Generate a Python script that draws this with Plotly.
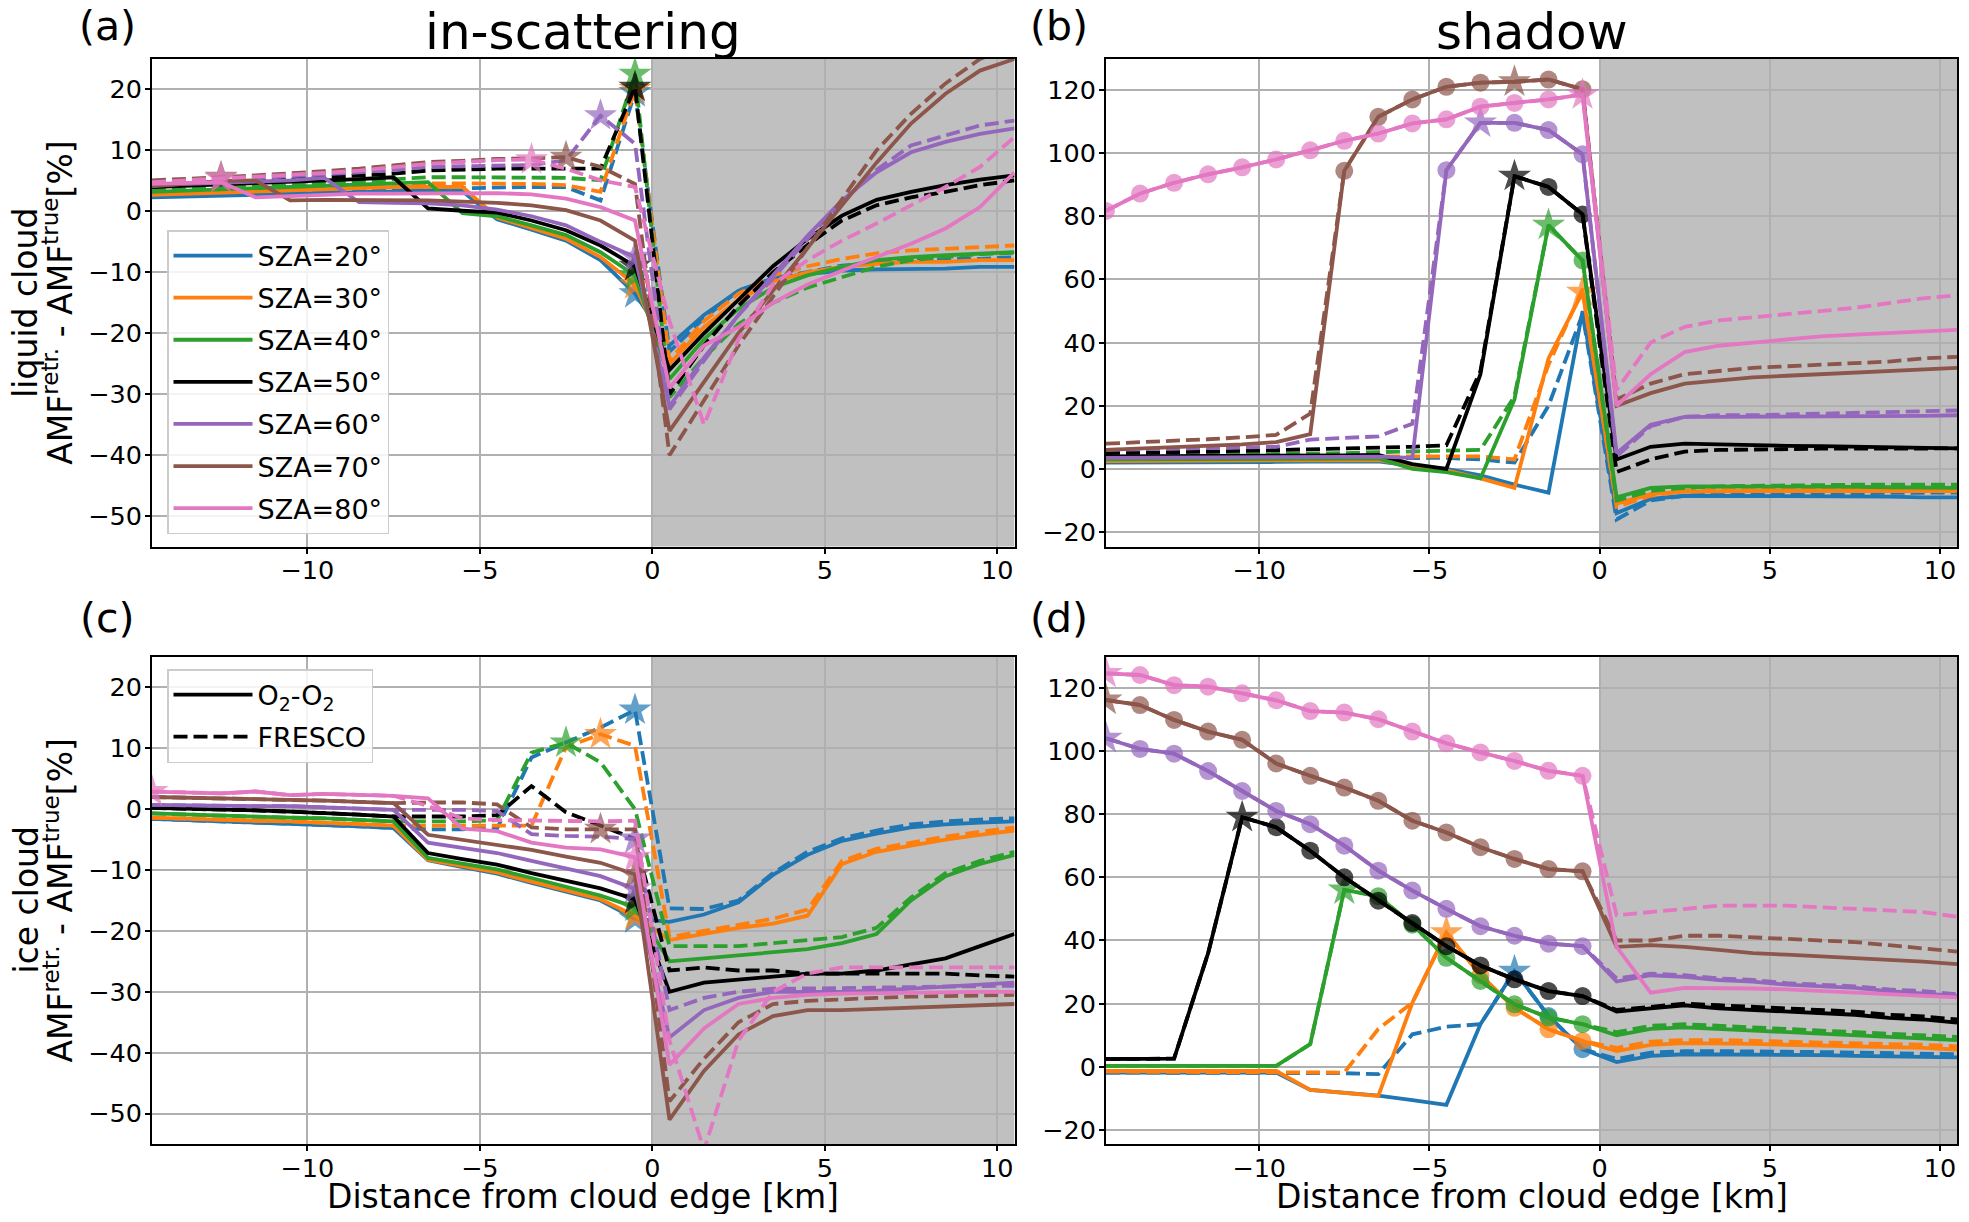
import plotly.graph_objects as go

# distance from cloud edge [km], pixel centres
x_km = [-14.5, -13.5, -12.5, -11.5, -10.5, -9.5, -8.5, -7.5, -6.5, -5.5, -4.5, -3.5, -2.5,
        -1.5, -0.5, 0.5, 1.5, 2.5, 3.5, 4.5, 5.5, 6.5, 7.5, 8.5, 9.5, 10.5]
sza_list = [20, 30, 40, 50, 60, 70, 80]

# (a) liquid cloud, in-scattering
a_o2_20 = [2.3, 2.4, 2.6, 2.7, 2.9, 3.0, 3.2, 3.3, 3.4, 3.3, -1.3, -3.0, -4.8, -8.0, -13.5, -22.0, -17.0, -13.0, -11.0, -10.3, -9.7, -9.5, -9.4, -9.4, -9.1, -9.1]
a_o2_30 = [2.7, 2.9, 3.1, 3.3, 3.5, 3.7, 3.9, 4.0, 4.0, 4.0, -1.0, -2.7, -4.5, -7.5, -12.0, -25.0, -19.0, -14.5, -11.5, -10.0, -9.1, -8.6, -8.3, -8.3, -8.0, -8.0]
a_o2_40 = [3.2, 3.4, 3.6, 3.8, 4.0, 4.2, 4.4, 4.7, 4.8, -0.3, -0.8, -2.3, -3.9, -6.7, -10.5, -27.5, -21.0, -16.0, -12.5, -10.5, -9.1, -8.0, -7.5, -7.2, -6.9, -6.7]
a_o2_50 = [4.0, 4.2, 4.4, 4.6, 4.8, 5.0, 5.3, 5.6, 0.5, 0.1, -0.2, -1.5, -3.1, -5.6, -9.0, -26.0, -20.0, -14.5, -9.0, -4.5, -0.7, 1.9, 3.2, 4.3, 5.2, 5.9]
a_o2_60 = [4.3, 4.5, 4.7, 4.9, 5.1, 5.5, 1.5, 1.4, 1.3, 1.0, 0.3, -0.8, -2.3, -5.0, -7.5, -32.0, -24.0, -17.0, -10.5, -4.0, 1.8, 6.4, 9.7, 11.4, 12.7, 13.6]
a_o2_70 = [4.1, 4.5, 5.0, 5.1, 1.8, 1.9, 1.9, 1.9, 1.8, 1.6, 1.4, 1.0, 0.2, -1.5, -4.8, -36.0, -28.0, -20.0, -13.0, -6.0, 1.0, 8.0, 14.4, 19.3, 23.1, 25.0]
a_o2_80 = [4.5, 4.6, 4.8, 2.3, 2.5, 2.7, 2.9, 2.9, 2.9, 2.9, 3.0, 2.8, 2.1, 0.7, -1.5, -29.0, -22.0, -19.0, -15.0, -12.0, -9.7, -7.5, -5.3, -2.8, 0.7, 6.4]

a_fr_20 = [2.5, 2.6, 2.8, 2.9, 3.1, 3.2, 3.4, 3.5, 3.7, 3.8, 4.0, 4.0, 4.0, 1.8, 19.5, -23.0, -17.5, -13.0, -11.0, -10.0, -8.9, -8.4, -8.0, -7.8, -7.8, -7.5]
a_fr_30 = [2.9, 3.1, 3.3, 3.5, 3.7, 3.9, 4.1, 4.3, 4.6, 4.6, 4.6, 4.5, 4.3, 3.2, 20.0, -24.4, -18.0, -13.5, -10.5, -9.0, -7.8, -6.9, -6.4, -6.1, -5.8, -5.6]
a_fr_40 = [3.4, 3.6, 3.9, 4.1, 4.3, 4.6, 4.9, 5.2, 5.6, 5.6, 5.6, 5.6, 5.5, 5.1, 22.5, -30.5, -24.0, -18.5, -15.0, -12.5, -10.8, -9.1, -8.0, -7.5, -7.0, -6.8]
a_fr_50 = [4.0, 4.3, 4.6, 4.9, 5.2, 5.5, 5.8, 6.2, 6.7, 6.9, 7.0, 7.0, 7.0, 7.0, 20.4, -30.0, -22.0, -15.5, -10.0, -5.5, -1.5, 1.0, 2.3, 3.2, 4.3, 5.1]
a_fr_60 = [4.5, 4.8, 5.1, 5.4, 5.7, 6.0, 6.4, 6.8, 7.3, 7.4, 7.5, 7.6, 8.4, 15.7, 11.1, -32.5, -24.5, -17.0, -11.0, -4.5, 1.5, 6.8, 10.8, 12.5, 14.1, 14.9]
a_fr_70 = [5.1, 5.3, 5.6, 5.9, 6.2, 6.6, 7.0, 7.5, 8.1, 8.3, 8.6, 8.7, 8.9, 7.3, 4.5, -40.0, -31.0, -22.0, -14.0, -6.0, 2.0, 10.0, 16.0, 21.0, 25.0, 27.0]
a_fr_80 = [4.8, 5.1, 5.4, 5.7, 5.9, 6.3, 6.7, 7.3, 7.8, 8.1, 8.4, 8.5, 7.0, 5.1, 4.0, -18.0, -35.0, -21.0, -12.0, -8.0, -4.8, -2.0, 1.0, 4.0, 7.3, 12.2]

# (b) liquid cloud, shadow
b_o2_20 = [2.0, 2.0, 2.1, 2.1, 2.2, 2.2, 2.3, 2.3, 2.4, 1.0, 0.0, -2.0, -5.0, -7.5, 50.0, -14.0, -9.5, -8.5, -8.5, -8.5, -8.5, -8.5, -8.5, -8.8, -9.0, -9.0]
b_o2_30 = [2.5, 2.5, 2.6, 2.6, 2.7, 2.7, 2.8, 2.8, 2.8, 1.0, -0.5, -3.0, -6.0, 35.0, 56.0, -11.0, -8.0, -7.2, -7.0, -7.0, -7.0, -7.0, -7.0, -7.0, -7.0, -7.0]
b_o2_40 = [3.0, 3.0, 3.1, 3.1, 3.2, 3.2, 3.3, 3.3, 3.3, 0.0, -1.0, -3.0, 22.0, 77.2, 66.0, -9.0, -6.0, -5.5, -5.5, -5.5, -5.5, -5.6, -5.7, -5.8, -5.9, -6.0]
b_o2_50 = [4.0, 4.0, 4.1, 4.1, 4.2, 4.2, 4.3, 4.3, 4.4, 1.5, 0.0, 30.0, 92.7, 89.3, 80.6, 3.0, 7.0, 8.0, 7.8, 7.5, 7.3, 7.2, 7.0, 6.9, 6.7, 6.5]
b_o2_60 = [3.5, 3.5, 3.6, 3.6, 3.7, 3.7, 3.8, 3.8, 3.9, 3.5, 94.6, 109.6, 109.6, 107.3, 99.6, 5.0, 14.0, 16.5, 16.5, 16.5, 16.5, 16.5, 16.5, 16.7, 16.8, 17.0]
b_o2_70 = [6.0, 6.4, 6.8, 7.3, 7.8, 8.5, 11.0, 94.4, 111.5, 117.0, 121.0, 122.3, 122.6, 123.3, 120.2, 20.0, 24.0, 27.0, 28.0, 29.0, 29.5, 30.0, 30.5, 31.0, 31.5, 32.0]
b_o2_80 = [81.7, 87.2, 90.6, 93.3, 95.5, 98.0, 100.9, 103.9, 106.2, 109.4, 110.7, 114.7, 115.9, 117.0, 118.5, 20.0, 30.0, 37.0, 39.0, 40.0, 41.0, 42.0, 42.5, 43.0, 43.5, 44.0]

b_fr_20 = [3.0, 3.0, 3.1, 3.1, 3.2, 3.2, 3.3, 3.3, 3.4, 3.5, 3.5, 3.0, 2.0, 20.0, 49.0, -16.0, -10.0, -8.5, -8.0, -8.0, -7.8, -7.8, -7.7, -7.6, -7.5, -7.5]
b_fr_30 = [3.5, 3.5, 3.6, 3.6, 3.7, 3.7, 3.8, 3.9, 4.0, 4.0, 4.0, 4.0, 3.0, 33.0, 57.0, -12.0, -8.5, -7.0, -6.5, -6.3, -6.2, -6.1, -6.0, -6.0, -6.0, -6.0]
b_fr_40 = [4.0, 4.1, 4.2, 4.3, 4.5, 4.6, 4.8, 5.0, 5.3, 5.5, 5.5, 6.0, 23.0, 77.2, 66.0, -10.0, -7.0, -6.0, -5.5, -5.3, -5.2, -5.1, -5.0, -5.0, -5.0, -5.0]
b_fr_50 = [5.0, 5.1, 5.3, 5.5, 5.7, 5.9, 6.1, 6.3, 6.5, 7.0, 7.5, 31.0, 92.7, 89.3, 80.6, -1.0, 3.0, 5.5, 6.0, 6.2, 6.3, 6.4, 6.4, 6.5, 6.5, 6.5]
b_fr_60 = [6.0, 6.2, 6.4, 6.6, 6.8, 7.0, 9.3, 9.8, 10.3, 14.3, 94.6, 109.6, 109.6, 107.3, 99.6, 4.0, 13.5, 16.5, 17.0, 17.0, 17.2, 17.4, 17.6, 17.8, 18.1, 18.5]
b_fr_70 = [8.0, 8.4, 8.9, 9.4, 10.0, 10.8, 17.5, 94.4, 111.5, 117.0, 121.0, 122.3, 122.6, 123.3, 120.2, 22.0, 27.0, 30.0, 31.0, 32.0, 32.5, 33.0, 33.5, 34.0, 35.0, 35.5]
b_fr_80 = [81.7, 87.2, 90.6, 93.3, 95.5, 98.0, 100.9, 103.9, 106.2, 109.4, 110.7, 114.7, 115.9, 117.0, 118.5, 25.0, 40.0, 45.0, 47.0, 48.0, 49.0, 50.0, 51.0, 52.5, 54.0, 55.0]

# (c) ice cloud, in-scattering
c_o2_20 = [-1.6, -1.8, -2.0, -2.1, -2.3, -2.5, -2.8, -3.1, -8.4, -9.5, -10.6, -12.1, -13.5, -15.0, -18.0, -18.5, -17.3, -15.3, -10.8, -7.5, -5.2, -4.0, -3.0, -2.5, -2.2, -2.0]
c_o2_30 = [-1.4, -1.6, -1.7, -1.9, -2.0, -2.2, -2.5, -2.7, -8.3, -9.3, -10.4, -11.9, -13.3, -14.8, -17.5, -21.5, -20.5, -19.5, -18.8, -17.5, -9.0, -7.0, -6.0, -5.0, -4.2, -3.5]
c_o2_40 = [-0.7, -0.9, -1.0, -1.2, -1.4, -1.5, -1.8, -2.0, -8.0, -9.0, -9.9, -11.3, -12.8, -14.2, -16.1, -25.0, -24.5, -24.0, -23.5, -23.0, -22.0, -20.5, -15.0, -11.0, -9.0, -7.5]
c_o2_50 = [0.2, 0.1, -0.1, -0.2, -0.4, -0.6, -0.9, -1.2, -7.2, -8.2, -9.1, -10.5, -11.8, -13.0, -14.8, -30.0, -28.5, -28.0, -27.5, -27.0, -27.0, -26.5, -25.5, -24.5, -22.5, -20.5]
c_o2_60 = [0.7, 0.6, 0.6, 0.5, 0.5, 0.3, 0.1, -0.1, -5.5, -6.4, -7.2, -8.5, -9.8, -11.0, -13.1, -37.5, -33.0, -31.0, -30.0, -30.0, -30.0, -29.8, -29.5, -29.2, -28.8, -28.5]
c_o2_70 = [2.0, 1.9, 1.8, 1.7, 1.5, 1.4, 1.2, 1.0, -4.2, -5.0, -5.8, -6.7, -7.8, -8.8, -10.7, -51.0, -43.0, -37.0, -34.0, -33.0, -33.0, -32.8, -32.5, -32.3, -32.1, -32.0]
c_o2_80 = [2.9, 2.8, 2.6, 2.9, 2.3, 2.5, 2.4, 2.2, 1.8, -3.2, -3.6, -5.5, -6.3, -6.6, -7.9, -42.0, -36.0, -32.0, -31.0, -30.5, -30.3, -30.2, -30.1, -30.0, -30.0, -30.0]

c_fr_20 = [-1.6, -1.8, -2.0, -2.1, -2.3, -2.5, -2.8, -3.1, -3.3, -3.3, -3.2, 8.5, 11.0, 13.4, 16.3, -16.3, -16.4, -15.0, -10.5, -7.0, -4.8, -3.5, -2.5, -2.0, -1.7, -1.5]
c_fr_30 = [-1.4, -1.6, -1.7, -1.9, -2.0, -2.2, -2.5, -2.7, -2.7, -2.7, -2.6, -2.7, 10.2, 12.3, 10.4, -21.0, -20.0, -19.0, -18.0, -16.5, -8.5, -6.5, -5.5, -4.5, -3.7, -3.0]
c_fr_40 = [-0.7, -0.9, -1.0, -1.2, -1.4, -1.5, -1.8, -2.0, -2.0, -2.0, -1.8, 9.3, 10.9, 7.7, 0.0, -22.5, -22.5, -22.5, -22.0, -21.5, -21.0, -19.5, -14.5, -10.5, -8.5, -7.0]
c_fr_50 = [0.2, 0.1, -0.1, -0.2, -0.4, -0.6, -0.9, -1.2, -1.2, -1.2, -1.0, 3.8, -0.5, -2.7, -4.9, -26.5, -26.0, -26.5, -26.5, -27.0, -27.0, -27.0, -27.0, -27.0, -27.3, -27.5]
c_fr_60 = [0.7, 0.6, 0.6, 0.5, 0.5, 0.3, 0.1, -0.1, -0.1, -0.1, -0.3, -4.1, -4.4, -4.5, -4.9, -33.0, -31.0, -30.0, -29.5, -29.5, -29.4, -29.3, -29.2, -29.1, -29.0, -29.0]
c_fr_70 = [2.0, 1.9, 1.8, 1.7, 1.5, 1.4, 1.2, 1.0, 1.1, 1.1, 0.8, -3.0, -3.3, -3.3, -3.3, -48.0, -41.0, -35.0, -32.0, -31.5, -31.2, -31.0, -30.8, -30.7, -30.6, -30.5]
c_fr_80 = [2.9, 2.8, 2.6, 2.9, 2.3, 2.5, 2.4, 2.2, 0.5, -1.5, -1.8, -1.9, -2.0, -2.0, -1.9, -38.0, -56.0, -38.0, -30.0, -27.0, -26.0, -26.0, -26.0, -26.0, -26.0, -26.0]

# (d) ice cloud, shadow
d_o2_20 = [-1.8, -1.8, -1.8, -1.8, -1.8, -1.8, -7.3, -8.2, -9.1, -10.5, -12.0, 13.5, 30.3, 16.1, 5.6, 1.5, 3.5, 4.0, 4.0, 4.0, 3.8, 3.7, 3.5, 3.3, 3.1, 3.0]
d_o2_30 = [-1.3, -1.3, -1.3, -1.3, -1.3, -1.3, -7.3, -8.3, -9.2, 20.3, 42.5, 29.0, 18.7, 11.9, 8.2, 5.0, 7.0, 7.5, 7.5, 7.3, 7.0, 6.8, 6.5, 6.2, 6.0, 5.5]
d_o2_40 = [0.3, 0.3, 0.3, 0.3, 0.3, 0.3, 7.2, 56.0, 54.0, 45.0, 34.5, 27.2, 19.8, 15.6, 13.5, 10.0, 12.0, 12.5, 12.0, 11.5, 11.0, 10.5, 10.0, 9.5, 9.0, 8.5]
d_o2_50 = [2.5, 2.5, 2.6, 36.0, 79.0, 75.8, 68.4, 60.0, 52.6, 45.5, 38.2, 32.1, 27.7, 24.0, 22.4, 17.5, 18.5, 19.5, 18.5, 18.0, 17.5, 17.0, 16.5, 15.5, 15.0, 14.0]
d_o2_60 = [104.0, 100.6, 99.1, 93.6, 87.3, 81.0, 76.8, 70.0, 62.1, 55.8, 50.0, 44.5, 41.5, 39.0, 38.2, 27.0, 29.0, 28.5, 27.5, 27.0, 26.0, 25.5, 25.0, 24.0, 23.3, 22.5]
d_o2_70 = [116.1, 114.5, 109.8, 106.1, 103.5, 96.0, 92.1, 88.4, 84.2, 77.9, 74.2, 69.5, 65.8, 62.6, 61.9, 38.0, 38.5, 38.0, 37.0, 36.0, 35.5, 35.0, 34.5, 34.0, 33.3, 32.5]
d_o2_80 = [124.5, 124.0, 120.8, 120.3, 118.2, 116.0, 112.6, 112.1, 110.0, 106.1, 102.4, 99.5, 96.8, 93.7, 92.1, 38.0, 23.5, 25.0, 25.0, 24.8, 24.5, 24.0, 23.5, 23.0, 22.5, 22.0]

d_fr_20 = [-1.8, -1.8, -1.8, -1.8, -1.8, -1.8, -1.9, -2.0, -2.3, 10.3, 12.7, 13.5, 30.3, 16.1, 5.6, 2.5, 4.5, 5.0, 5.0, 5.0, 4.8, 4.7, 4.5, 4.3, 4.1, 4.0]
d_fr_30 = [-1.5, -1.5, -1.5, -1.5, -1.5, -1.5, -1.6, -1.8, 12.0, 20.3, 42.5, 29.0, 18.7, 11.9, 8.2, 6.0, 8.0, 8.5, 8.5, 8.3, 8.0, 7.8, 7.5, 7.2, 7.0, 6.5]
d_fr_40 = [0.3, 0.3, 0.3, 0.3, 0.3, 0.3, 7.2, 56.0, 54.0, 45.0, 34.5, 27.2, 19.8, 15.6, 13.5, 11.0, 13.0, 13.5, 13.0, 12.5, 12.0, 11.5, 11.0, 10.5, 10.0, 9.5]
d_fr_50 = [2.5, 2.5, 2.6, 36.0, 79.0, 75.8, 68.4, 60.0, 52.6, 45.5, 38.2, 32.1, 27.7, 24.0, 22.4, 18.0, 19.0, 20.0, 19.5, 19.0, 18.5, 18.0, 17.5, 16.5, 16.0, 15.0]
d_fr_60 = [104.0, 100.6, 99.1, 93.6, 87.3, 81.0, 76.8, 70.0, 62.1, 55.8, 50.0, 44.5, 41.5, 39.0, 38.2, 28.0, 29.5, 29.0, 28.0, 27.5, 26.5, 26.0, 25.5, 24.5, 24.0, 23.0]
d_fr_70 = [116.1, 114.5, 109.8, 106.1, 103.5, 96.0, 92.1, 88.4, 84.2, 77.9, 74.2, 69.5, 65.8, 62.6, 61.9, 40.0, 40.0, 41.5, 41.5, 41.0, 40.5, 40.0, 39.5, 38.5, 37.5, 36.5]
d_fr_80 = [124.5, 124.0, 120.8, 120.3, 118.2, 116.0, 112.6, 112.1, 110.0, 106.1, 102.4, 99.5, 96.8, 93.7, 92.1, 48.0, 49.0, 50.0, 51.0, 51.0, 51.0, 50.5, 50.0, 49.5, 49.0, 47.5]

# marked pixels (index into x_km): stars and shaded-pixel circles
stars = {
    ("a", "o2"): {20: [14], 30: [14], 40: [14], 50: [14], 60: [14]},
    ("a", "fr"): {20: [14], 30: [14], 40: [14], 50: [14], 60: [13], 70: [2, 12], 80: [2, 11]},
    ("b", "o2"): {30: [14], 40: [13], 50: [12], 60: [11], 70: [12], 80: [14]},
    ("c", "o2"): {20: [14], 30: [14], 40: [14], 50: [14], 60: [14], 70: [14], 80: [0, 14]},
    ("c", "fr"): {20: [14], 30: [13], 40: [12], 60: [14], 70: [13]},
    ("d", "o2"): {20: [12], 30: [10], 40: [7], 50: [4], 60: [0], 70: [0], 80: [0]},
}
circles = {
    ("b", "o2"): {40: [14], 50: [13, 14], 60: [10, 12, 13, 14],
                  70: [7, 8, 9, 10, 11, 13, 14], 80: list(range(0, 14))},
    ("d", "o2"): {20: [13, 14], 30: [11, 12, 13, 14], 40: list(range(8, 15)),
                  50: list(range(5, 15)), 60: list(range(1, 15)),
                  70: list(range(1, 15)), 80: list(range(1, 15))},
}

colors = {20: "#1f77b4", 30: "#ff7f0e", 40: "#2ca02c", 50: "black",
          60: "#9467bd", 70: "#8c564b", 80: "#e377c2"}

series = {}
for p, grp in (("a", [a_o2_20, a_o2_30, a_o2_40, a_o2_50, a_o2_60, a_o2_70, a_o2_80,
                      a_fr_20, a_fr_30, a_fr_40, a_fr_50, a_fr_60, a_fr_70, a_fr_80]),
               ("b", [b_o2_20, b_o2_30, b_o2_40, b_o2_50, b_o2_60, b_o2_70, b_o2_80,
                      b_fr_20, b_fr_30, b_fr_40, b_fr_50, b_fr_60, b_fr_70, b_fr_80]),
               ("c", [c_o2_20, c_o2_30, c_o2_40, c_o2_50, c_o2_60, c_o2_70, c_o2_80,
                      c_fr_20, c_fr_30, c_fr_40, c_fr_50, c_fr_60, c_fr_70, c_fr_80]),
               ("d", [d_o2_20, d_o2_30, d_o2_40, d_o2_50, d_o2_60, d_o2_70, d_o2_80,
                      d_fr_20, d_fr_30, d_fr_40, d_fr_50, d_fr_60, d_fr_70, d_fr_80])):
    for k, sza in enumerate(sza_list):
        series[(p, "o2", sza)] = grp[k]
        series[(p, "fr", sza)] = grp[k + 7]

axes = {"a": ("x", "y"), "b": ("x2", "y2"), "c": ("x3", "y3"), "d": ("x4", "y4")}
FONT = "DejaVu Sans"
LW = 3.8
STAR = 25
CIRC = 18
OFF = 8  # the page body adds an 8px margin around the figure
W, H = 1969 - 2 * OFF, 1222 - 2 * OFF


def fx(px):
    # window pixel -> paper fraction
    return (px - OFF) / W


def fy(py):
    return 1 - (py - OFF) / H


fig = go.Figure()

for p in ["a", "b", "c", "d"]:
    xa, ya = axes[p]
    for sza in sza_list:
        for m in ["o2", "fr"]:
            ys = series[(p, m, sza)]
            st = stars.get((p, m), {}).get(sza, [])
            ci = circles.get((p, m), {}).get(sza, [])
            sym, size = [], []
            for i in range(len(x_km)):
                if i in st:
                    sym.append("star"); size.append(STAR)
                elif i in ci:
                    sym.append("circle"); size.append(CIRC)
                else:
                    sym.append("circle"); size.append(0)
            fig.add_trace(go.Scatter(
                x=x_km, y=ys, xaxis=xa, yaxis=ya, mode="lines+markers",
                line=dict(color=colors[sza], width=LW,
                          dash="solid" if m == "o2" else "14px,6px"),
                marker=dict(symbol=sym, size=size, color=colors[sza], line=dict(width=0)),
                showlegend=False, hoverinfo="skip"))

# legend entries
for sza in sza_list:
    fig.add_trace(go.Scatter(x=[None], y=[None], mode="lines", name="SZA=%d°" % sza,
                             line=dict(color=colors[sza], width=LW), legend="legend",
                             legendgroup="s%d" % sza))
fig.add_trace(go.Scatter(x=[None], y=[None], mode="lines", name="O<sub>2</sub>-O<sub>2</sub>",
                         line=dict(color="black", width=LW), legend="legend2", legendgroup="m1"))
fig.add_trace(go.Scatter(x=[None], y=[None], mode="lines", name="FRESCO",
                         line=dict(color="black", width=LW, dash="14px,6px"),
                         legend="legend2", legendgroup="m2"))

xl = [fx(152), fx(1014.5)]
xr = [fx(1106), fx(1957)]
yt = [fy(546.6), fy(59)]
yb = [fy(1144), fy(657)]

xcommon = dict(range=[-14.5, 10.5], tickvals=[-10, -5, 0, 5, 10], showgrid=True,
               gridcolor="#b0b0b0", gridwidth=1.5, zeroline=False, showline=True,
               linecolor="black", linewidth=2, mirror=True, ticks="outside", ticklen=5,
               tickwidth=1.5, tickcolor="black", tickfont=dict(size=25.5, color="black"),
               ticklabelstandoff=-5)
ycommon = dict(showgrid=True, gridcolor="#b0b0b0", gridwidth=1.5, zeroline=False,
               showline=True, linecolor="black", linewidth=2, mirror=True, ticks="outside",
               ticklen=5, tickwidth=1.5, tickcolor="black",
               tickfont=dict(size=25.5, color="black"), ticklabelstandoff=-2)

fig.update_layout(
    width=W, height=H, autosize=False,
    margin=dict(l=0, r=0, t=0, b=0),
    paper_bgcolor="white", plot_bgcolor="white",
    font=dict(family=FONT, color="black"),
    xaxis=dict(domain=xl, anchor="y", **xcommon),
    yaxis=dict(domain=yt, anchor="x", range=[-55, 25], tickvals=list(range(-50, 21, 10)), **ycommon),
    xaxis2=dict(domain=xr, anchor="y2", **xcommon),
    yaxis2=dict(domain=yt, anchor="x2", range=[-24.6, 129.8], tickvals=list(range(-20, 121, 20)), **ycommon),
    xaxis3=dict(domain=xl, anchor="y3", **xcommon),
    yaxis3=dict(domain=yb, anchor="x3", range=[-55, 25], tickvals=list(range(-50, 21, 10)), **ycommon),
    xaxis4=dict(domain=xr, anchor="y4", **xcommon),
    yaxis4=dict(domain=yb, anchor="x4", range=[-24.4, 129.7], tickvals=list(range(-20, 121, 20)), **ycommon),
    legend=dict(x=fx(167), y=fy(230), xanchor="left", yanchor="top",
                bgcolor="rgba(255,255,255,0.85)", bordercolor="#cccccc", borderwidth=1.5,
                font=dict(size=27), itemwidth=79, tracegroupgap=4, traceorder="grouped"),
    legend2=dict(x=fx(167), y=fy(669), xanchor="left", yanchor="top",
                 bgcolor="rgba(255,255,255,0.85)", bordercolor="#cccccc", borderwidth=1.5,
                 font=dict(size=27), itemwidth=79, tracegroupgap=4, traceorder="grouped"),
)

# cloud region shading (x >= 0)
for xa, ya in axes.values():
    fig.add_shape(type="rect", xref=xa, yref=ya + " domain", x0=0, x1=10.5, y0=0, y1=1,
                  fillcolor="#c0c0c0", line=dict(width=0), layer="below")

ann = []
for lab, xp, yp in (("(a)", 107, 26), ("(b)", 1059, 26), ("(c)", 107, 618), ("(d)", 1059, 618)):
    ann.append(dict(text=lab, x=fx(xp), y=fy(yp), xref="paper", yref="paper", showarrow=False,
                    xanchor="center", yanchor="middle", font=dict(size=41)))
for lab, xp in (("in-scattering", sum(xl) / 2), ("shadow", sum(xr) / 2)):
    ann.append(dict(text=lab, x=xp, y=yt[1], xref="paper", yref="paper", showarrow=False,
                    xanchor="center", yanchor="bottom", yshift=-4, font=dict(size=50)))
for xp in (sum(xl) / 2, sum(xr) / 2):
    ann.append(dict(text="Distance from cloud edge [km]", x=xp, y=fy(1196), xref="paper",
                    yref="paper", showarrow=False, xanchor="center", yanchor="middle",
                    font=dict(size=33)))
for lab, yp in (("liquid cloud", sum(yt) / 2), ("ice cloud", sum(yb) / 2)):
    ann.append(dict(text=lab, x=fx(26), y=yp, xref="paper", yref="paper", showarrow=False,
                    textangle=-90, xanchor="center", yanchor="middle", font=dict(size=33)))
    ann.append(dict(text="AMF<sup>retr.</sup> - AMF<sup>true</sup>[%]", x=fx(59), y=yp,
                    xref="paper", yref="paper", showarrow=False, textangle=-90,
                    xanchor="center", yanchor="middle", font=dict(size=33)))
fig.update_layout(annotations=ann)

fig.write_html("out.html")
